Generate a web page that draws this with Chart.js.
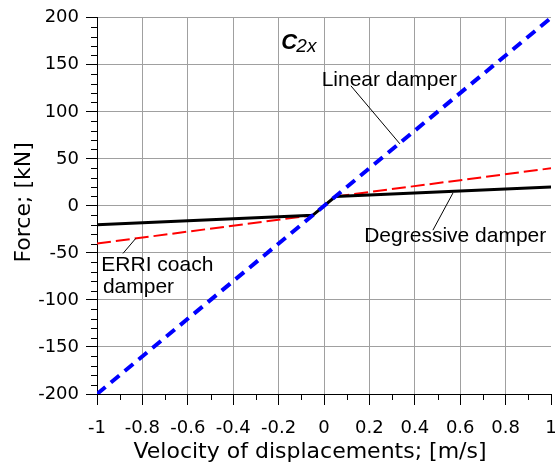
<!DOCTYPE html>
<html><head><meta charset="utf-8">
<script src="https://cdn.jsdelivr.net/npm/chart.js@4/dist/chart.umd.min.js"></script>
<style>html,body{margin:0;padding:0;background:#fff}#wrap{width:555px;height:470px}</style>
</head><body><div id="wrap"><canvas id="c" width="555" height="470"></canvas></div>
<script>
const xTickValues = [-1, -0.8, -0.6, -0.4, -0.2, 0, 0.2, 0.4, 0.6, 0.8, 1];
const xTickLabels = ['-1', '-0.8', '-0.6', '-0.4', '-0.2', '0', '0.2', '0.4', '0.6', '0.8', '1'];
const yTickValues = [-200, -150, -100, -50, 0, 50, 100, 150, 200];
const yTickLabels = ['-200', '-150', '-100', '-50', '0', '50', '100', '150', '200'];

const linearVelocity = [-1, 1];
const linearForce = [-200, 200];
const degressiveVelocity = [-1, -0.05, 0.05, 1];
const degressiveForce = [-20, -10, 10, 20];
const erriVelocity = [-1, -0.05, 0.05, 1];
const erriForce = [-40, -10, 10, 40];

const seriesNames = ['Linear damper', 'Degressive damper', 'ERRI coach damper'];

function pts(xs, ys) { return xs.map((x, i) => ({ x: x, y: ys[i] })); }

// annotation texts (anchored in data units)
const labelTexts = [
  { text: 'Linear damper', x: -0.0104, y: 127.7, font: '21px "Liberation Sans", Arial, sans-serif' },
  { text: 'Degressive damper', x: 0.177, y: -38.2, font: '21px "Liberation Sans", Arial, sans-serif' },
  { text: 'ERRI coach', x: -0.981, y: -68.9, font: '21px "Liberation Sans", Arial, sans-serif' },
  { text: 'damper', x: -0.974, y: -92.9, font: '21px "Liberation Sans", Arial, sans-serif' },
  { text: 'C', x: -0.1883, y: 167.2, font: 'italic bold 22px "Liberation Sans", Arial, sans-serif' },
  { text: '2x', x: -0.1219, y: 163.7, font: 'italic 19px "Liberation Sans", Arial, sans-serif' }
];
const leaderLines = [
  [0.1184, 127.7, 0.3344, 65.96],
  [0.4798, -25.8, 0.5680, 13.66],
  [-0.8854, -50.5, -0.8294, -34.6]
];

const minorTicks = {
  id: 'minorTicks',
  afterDraw(chart) {
    const { ctx, scales: { x, y }, chartArea: a } = chart;
    ctx.save();
    ctx.strokeStyle = '#000';
    ctx.lineWidth = 1;
    ctx.beginPath();
    for (let i = -9; i <= 9; i += 2) {
      const px = Math.round(x.getPixelForValue(i / 10)) + 0.5;
      ctx.moveTo(px, a.bottom);
      ctx.lineTo(px, a.bottom + 6);
    }
    for (let v = -190; v <= 190; v += 10) {
      if (v % 50 === 0) continue;
      const py = Math.round(y.getPixelForValue(v)) + 0.5;
      ctx.moveTo(a.left - 6, py);
      ctx.lineTo(a.left, py);
    }
    ctx.stroke();
    ctx.restore();
  }
};

const annotations = {
  id: 'annotations',
  afterDraw(chart) {
    const { ctx, scales: { x, y } } = chart;
    ctx.save();
    ctx.strokeStyle = '#000';
    ctx.lineWidth = 1;
    leaderLines.forEach(l => {
      ctx.beginPath();
      ctx.moveTo(x.getPixelForValue(l[0]), y.getPixelForValue(l[1]));
      ctx.lineTo(x.getPixelForValue(l[2]), y.getPixelForValue(l[3]));
      ctx.stroke();
    });
    ctx.fillStyle = '#000';
    ctx.textAlign = 'left';
    ctx.textBaseline = 'alphabetic';
    labelTexts.forEach(t => {
      ctx.font = t.font;
      ctx.fillText(t.text, x.getPixelForValue(t.x), y.getPixelForValue(t.y));
    });
    ctx.restore();
  }
};

const tickFont = { family: '"DejaVu Sans", sans-serif', size: 18 };
const titleFont = { family: '"DejaVu Sans", sans-serif', size: 22 };
const gridGray = '#a0a0a0';

new Chart(document.getElementById('c'), {
  type: 'line',
  data: {
    datasets: [
      { label: seriesNames[0], data: pts(linearVelocity, linearForce), borderColor: '#0000ff', borderWidth: 4, borderDash: [11, 7] },
      { label: seriesNames[1], data: pts(degressiveVelocity, degressiveForce), borderColor: '#000000', borderWidth: 3 },
      { label: seriesNames[2], data: pts(erriVelocity, erriForce), borderColor: '#ff0000', borderWidth: 2, borderDash: [14, 5] }
    ]
  },
  options: {
    responsive: false,
    animation: false,
    devicePixelRatio: 1,
    layout: { padding: { top: 17, right: 4, left: 0, bottom: 0 } },
    plugins: { legend: { display: false }, tooltip: { enabled: false } },
    elements: { point: { radius: 0 }, line: { tension: 0, fill: false } },
    scales: {
      x: {
        type: 'linear', min: -1, max: 1,
        afterBuildTicks: s => { s.ticks = xTickValues.map(v => ({ value: v })); },
        afterFit: s => { s.height = 76; s.paddingLeft = 0; s.paddingRight = 0; },
        ticks: { callback: (v, i) => xTickLabels[i], font: tickFont, color: '#000', padding: 13, maxRotation: 0, autoSkip: false },
        grid: { color: c => (c.tick && c.tick.value === 1) ? 'rgba(0,0,0,0)' : gridGray, tickColor: '#000', tickLength: 11, lineWidth: 1 },
        border: { color: '#000', width: 1 },
        title: { display: true, text: 'Velocity of displacements; [m/s]\u00a0\u00a0\u00a0\u00a0', font: titleFont, color: '#000', padding: { top: 0, bottom: 5 } }
      },
      y: {
        type: 'linear', min: -200, max: 200,
        afterBuildTicks: s => { s.ticks = yTickValues.map(v => ({ value: v })); },
        afterFit: s => { s.width = 97; },
        ticks: { callback: (v, i) => yTickLabels[i], font: tickFont, color: '#000', padding: 7, autoSkip: false },
        grid: { color: gridGray, tickColor: '#000', tickLength: 11, lineWidth: 1 },
        border: { color: '#000', width: 1 },
        title: { display: true, text: '\u00a0Force; [kN]', font: titleFont, color: '#000', padding: { top: 11, bottom: 0 } }
      }
    }
  },
  plugins: [minorTicks, annotations]
});
</script>
</body></html>
